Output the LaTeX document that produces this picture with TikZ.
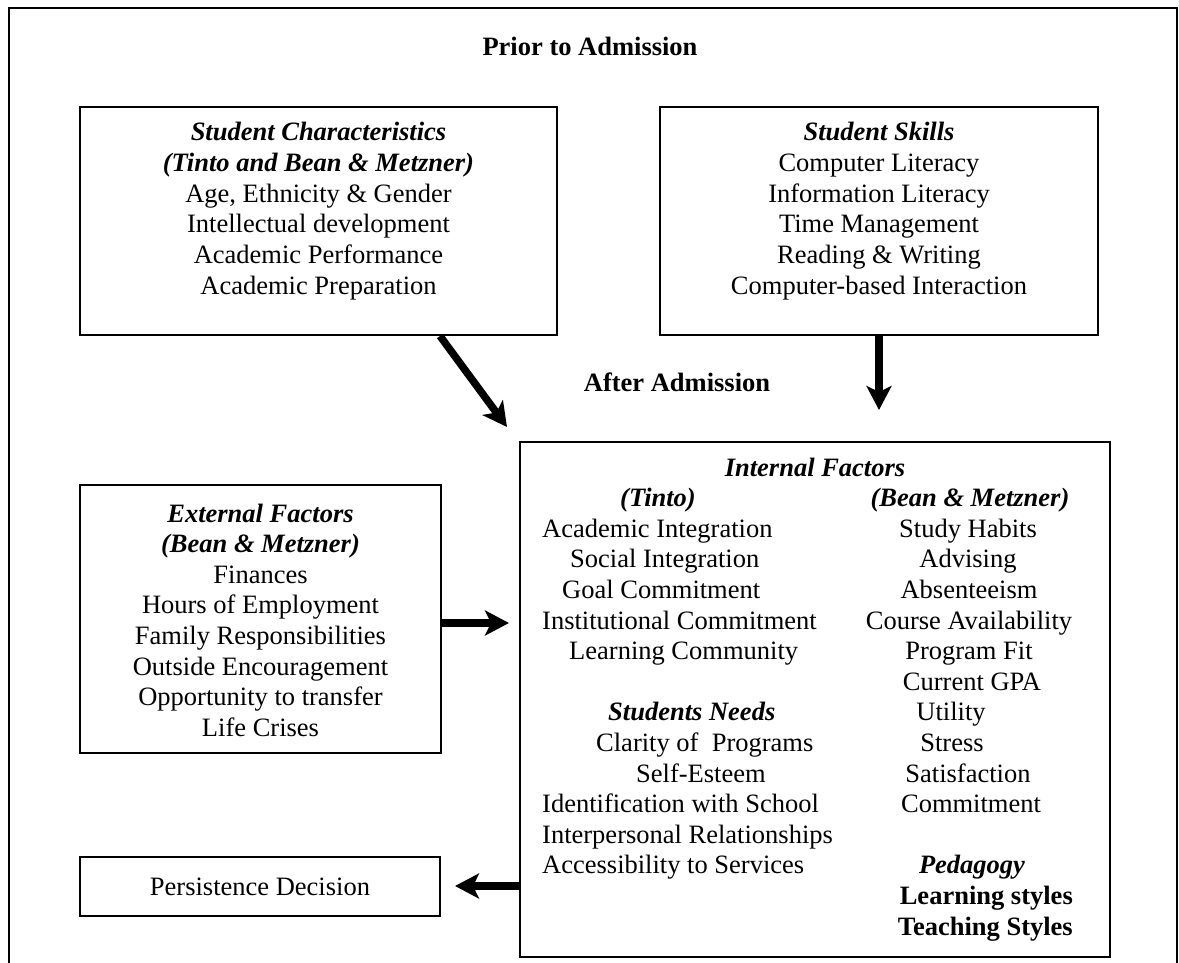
\documentclass[tikz,border=0pt]{standalone}
\usepackage{fontspec}
\setmainfont{Liberation Serif}
\usetikzlibrary{arrows.meta,calc}

\begin{document}
\begin{tikzpicture}[x=1pt,y=-1pt,
  box/.style={draw, line width=2pt, inner sep=0pt},
  txt/.style={inner sep=0pt, anchor=base, font=\fontsize{26.5}{30.6}\selectfont},
  hd/.style={txt, font=\fontsize{26.5}{30.6}\selectfont\bfseries\itshape},
  bd/.style={txt, font=\fontsize{26.5}{30.6}\selectfont\bfseries},
  bigarrow/.style={line width=7.5pt, -{Stealth[length=24pt,width=25pt,inset=6pt]}}]

\useasboundingbox (0,0) rectangle (1179,963);

% outer frame (open at the bottom)
\draw[line width=2.5pt] (9,963) -- (9,8) -- (1177,8) -- (1177,963);

% section titles
\node[bd] (prior) at (590,56) {Prior to Admission};
\node[bd] (after) at (677,391) {After Admission};

% boxes
\node[box, minimum width=477pt, minimum height=228pt] (chars) at (318.5,221) {};
\node[box, minimum width=438pt, minimum height=228pt] (skills) at (879,221) {};
\node[box, minimum width=361pt, minimum height=268pt] (ext) at (260.5,619) {};
\node[box, line width=2.5pt, minimum width=590pt, minimum height=515pt] (internal) at (815,699.5) {};
\node[box, minimum width=360pt, minimum height=59pt] (pers) at (260,886.5) {};

% student characteristics
\foreach \t [count=\i from 0] in {{\bfseries\itshape Student Characteristics},
  {\bfseries\itshape (Tinto and Bean \& Metzner)},
  {Age, Ethnicity \& Gender}, {Intellectual development},
  {Academic Performance}, {Academic Preparation}}
  \node[txt] (ch\i) at (318.5,{141+30.6*\i}) {\t};

% student skills
\foreach \t [count=\i from 0] in {{\bfseries\itshape Student Skills},
  {Computer Literacy}, {Information Literacy}, {Time Management},
  {Reading \& Writing}, {Computer-based Interaction}}
  \node[txt] (sk\i) at (879,{141+30.6*\i}) {\t};

% external factors
\foreach \t [count=\i from 0] in {{\bfseries\itshape External Factors},
  {\bfseries\itshape (Bean \& Metzner)},
  {Finances}, {Hours of Employment}, {Family Responsibilities},
  {Outside Encouragement}, {Opportunity to transfer}, {Life Crises}}
  \node[txt] (ex\i) at (260.5,{522+30.6*\i}) {\t};

% internal factors: headings
\node[hd] (inT) at (815,476) {Internal Factors};
\node[hd] (tinto) at (658,{476+30.6}) {(Tinto)};
\node[hd] (bean) at (970,{476+30.6}) {(Bean \& Metzner)};
\node[hd, anchor=base west] (needs) at (608,{476+30.6*8}) {Students Needs};
\node[hd] (peda) at (972,{476+30.6*13}) {Pedagogy};
\node[bd, anchor=base east] (learn) at (1073,{476+30.6*14}) {Learning styles};
\node[bd, anchor=base east] (teach) at (1073,{476+30.6*15}) {Teaching Styles};

% internal factors: left column
\foreach \x/\k/\t [count=\i] in {542/2/Academic Integration, 570/3/Social Integration,
  562/4/Goal Commitment, 542/5/Institutional Commitment, 569/6/Learning Community,
  596/9/Clarity of~ Programs, 636/10/Self-Esteem, 542/11/Identification with School,
  542/12/Interpersonal Relationships, 542/13/Accessibility to Services}
  \node[txt, anchor=base west] (lc\i) at (\x,{476+30.6*\k}) {\t};

% internal factors: right column
\foreach \x/\k/\t [count=\i] in {968/2/Study Habits, 968/3/Advising, 969/4/Absenteeism,
  969/5/Course Availability, 969/6/Program Fit, 972/7/Current GPA, 951/8/Utility,
  952/9/Stress, 968/10/Satisfaction, 971/11/Commitment}
  \node[txt] (rc\i) at (\x,{476+30.6*\k}) {\t};

% persistence decision
\node[txt] (perst) at (260,895) {Persistence Decision};

% connectors
\coordinate (diagtip) at (507,427);
\coordinate (skilltip) at (879,410);
\coordinate (exttip) at (509,623);
\coordinate (perstip) at (455,886);
\draw[bigarrow] ([xshift=121.5pt]chars.south) -- (diagtip);
\draw[bigarrow] (skills.south) -- (skilltip);
\draw[bigarrow] (ext.east |- exttip) -- (exttip);
\draw[bigarrow] (internal.west |- perstip) -- (perstip);
\end{tikzpicture}
\end{document}
